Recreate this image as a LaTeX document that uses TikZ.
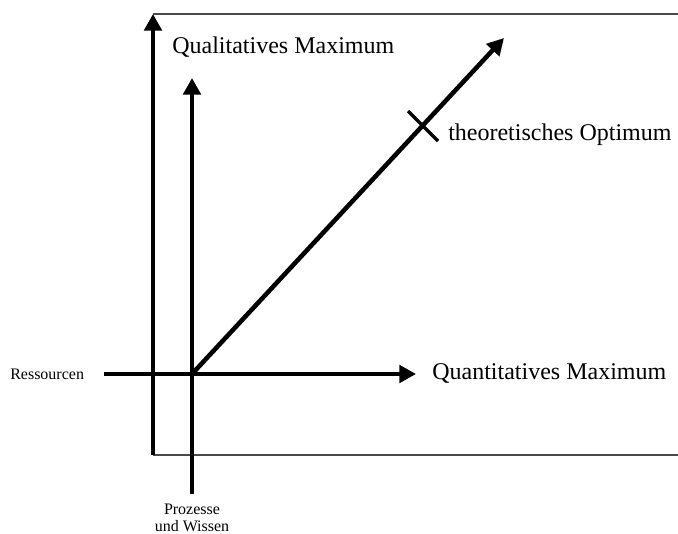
\documentclass[tikz,border=0pt]{standalone}
\usepackage{fontspec}
\setmainfont{Liberation Serif}
\usetikzlibrary{arrows.meta,positioning,calc}
\definecolor{ink}{HTML}{000000}
\definecolor{frameline}{HTML}{4A4A4A}

\begin{document}
\begin{tikzpicture}[
  x={(0.75pt,0)}, y={(0,-0.75pt)},
  axis/.style={-{Triangle[length=12.5pt, width=13pt]}, draw=ink, line width=3.4pt},
  plain/.style={draw=ink, line width=3.4pt},
  frame/.style={draw=frameline, line width=1.1pt},
  big/.style={font=\fontsize{18}{21}\selectfont, inner sep=0pt, anchor=west},
  small/.style={font=\fontsize{12}{12.8}\selectfont, inner sep=0pt, align=center},
]
\useasboundingbox (0,0) rectangle (678,534);
% frame and outer axis
\coordinate (tl) at (153,14);
\coordinate (bl) at (153,455);
\coordinate (tr) at (678,14);
\coordinate (br) at (678,455);
\draw[frame] (tl) -- (tr);
\draw[frame] (bl) -- (br);
\draw[axis] (bl) -- (tl);
% inner axes
\coordinate (o) at (192,374);
\coordinate (res) at (104,374);
\coordinate (quant) at (416,374);
\coordinate (proz) at (192,494);
\coordinate (qual) at (192,78);
\coordinate (opt) at (504,38);
\draw[axis] (res) -- (quant);
\draw[axis] (proz) -- (qual);
\draw[axis] (o) -- (opt);
% optimum mark
\coordinate (mark) at (423,126);
\draw[plain, line width=2.6pt] ($(mark)+(-15,-15)$) -- ($(mark)+(15,15)$);
% labels
\node[big] (lqual) at (172,47) {Qualitatives Maximum};
\node[big] (lopt) at (448,135) {theoretisches Optimum};
\node[big] (lquant) at (432,373) {Quantitatives Maximum};
\node[small, anchor=west] (lres) at (10,374) {Ressourcen};
\node[small, anchor=north] (lproz) at (192,504) {Prozesse\\und Wissen};
\end{tikzpicture}
\end{document}
